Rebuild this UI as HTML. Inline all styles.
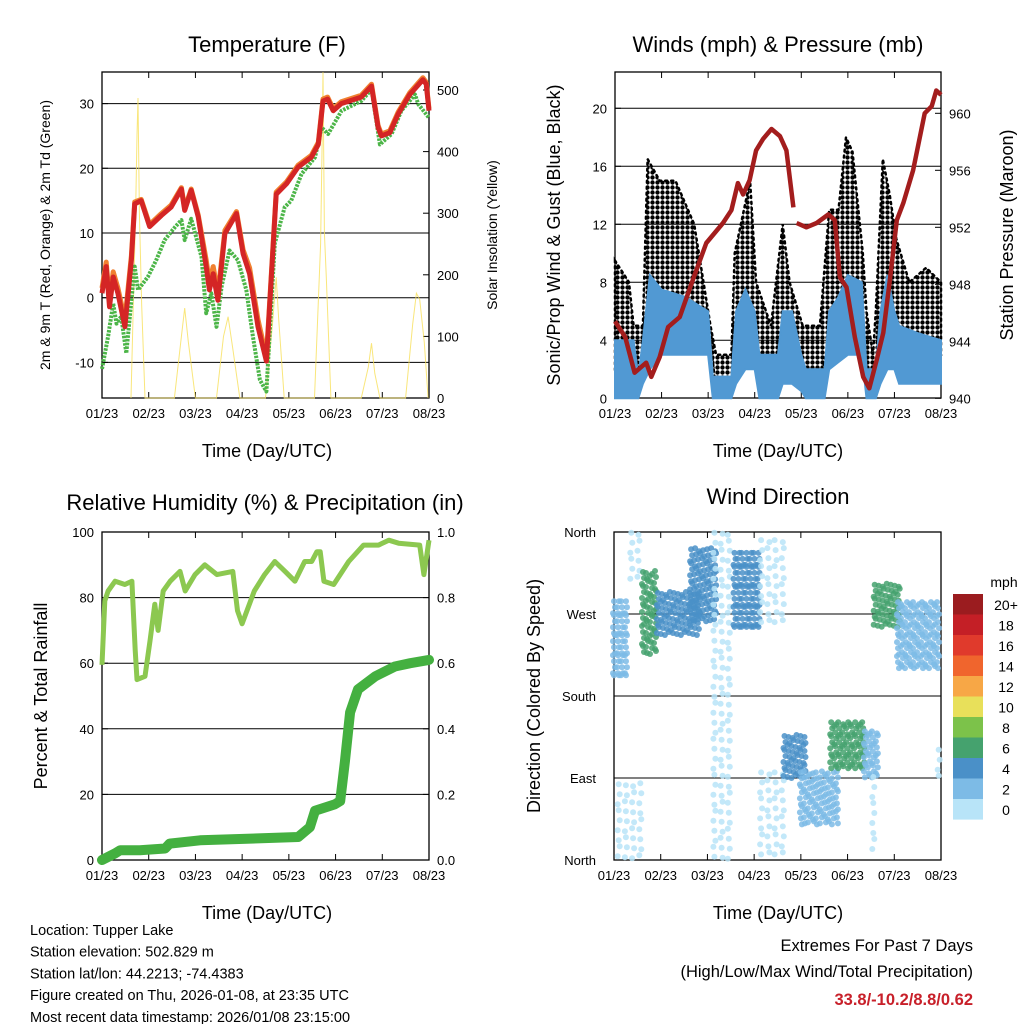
<!DOCTYPE html>
<html><head><meta charset="utf-8"><style>
body{margin:0;background:#fff;}
svg{display:block;font-family:"Liberation Sans",sans-serif;}
</style></head><body>
<svg id="chart" width="1024" height="1024" viewBox="0 0 1024 1024">
<defs>
<pattern id="gustDots" width="5" height="5" patternUnits="userSpaceOnUse"><circle cx="2.5" cy="2.5" r="2.2" fill="#000"/></pattern>
</defs>
<g id="g"></g>
</svg>
<script>
// ---------- DATA ----------
const xTickLabels = ["01/23","02/23","03/23","04/23","05/23","06/23","07/23","08/23"];
// Temperature panel
const tempT  = [0,0.09,0.16,0.24,0.34,0.49,0.63,0.7,0.84,1.02,1.27,1.48,1.7,1.77,1.91,2.06,2.23,2.3,2.38,2.48,2.63,2.88,3.02,3.16,3.34,3.52,3.73,3.95,4.2,4.48,4.63,4.73,4.83,4.95,5.12,5.55,5.77,5.91,5.98,6.16,6.34,6.59,6.87,6.94,7.0];
const redT   = [0.7,4.8,-1.4,3.2,0.7,-4.5,5.8,14.5,15,11,12.7,14,16.8,13.5,16.6,12.5,4.8,1.2,3.7,-0.4,9.9,13,6.8,3.7,-4.5,-9.8,16,17.6,20.2,21.7,23.7,30.4,30.7,28.9,30,31,32.7,26.3,25,25.5,28.4,31.4,33.7,33,28.9];
const orangeT= [1.5,5.5,-0.5,4,1.5,-3.5,6.5,14.8,15.2,11.3,13,14.3,17,13.8,16.8,12.8,5.8,2.4,4.8,0.6,10.4,13.3,7.4,4.6,-3.4,-9.2,16.3,17.9,20.5,22,24,30.7,31,29.2,30.3,31.3,33,26.6,25.3,25.8,28.7,31.7,34,33.3,29.2];
const dewT   = [0,0.13,0.24,0.31,0.41,0.52,0.63,0.7,0.77,0.98,1.16,1.34,1.56,1.7,1.77,1.91,2.13,2.23,2.34,2.45,2.56,2.73,2.91,3.09,3.23,3.38,3.52,3.7,3.91,4.05,4.27,4.56,4.7,4.84,5.13,5.55,5.77,5.95,6.2,6.41,6.7,6.77,7.0];
const dewV   = [-11,-6,-0.9,-4,-2.9,-8.6,-0.4,4.8,1.2,3.2,5.8,8.9,10.9,12,8.9,12.2,6.3,-2.4,0.7,-4.5,1.7,7.3,5.8,1.2,-6,-12.7,-14.5,8.4,14,15,19.1,21.7,26.3,25.3,28.9,30.4,32.2,23.7,25.3,28.9,31.4,29.9,27.8];
const solarT = [0.62,0.72,0.75,0.77,0.8,0.85,0.92,1.55,1.7,1.77,1.85,2.0,2.45,2.6,2.7,2.8,2.95,3.5,3.65,3.73,3.78,3.9,4.55,4.68,4.71,4.73,4.76,4.8,4.9,5.55,5.7,5.77,5.84,5.95,6.5,6.65,6.73,6.8,6.9,6.98];
const solarV = [0,300,427,487,300,150,0,0,100,146,90,0,0,100,132,80,0,0,120,196,130,0,0,250,400,529,268,200,0,0,50,89,40,0,0,120,170,160,90,0];
// Winds panel
const presT = [0,0.22,0.42,0.67,0.78,0.96,1.14,1.39,1.67,1.96,2.32,2.5,2.64,2.75,2.89,3.03,3.18,3.36,3.54,3.68,3.83];
const presV = [945.4,944.3,941.8,942.5,941.5,942.9,945,945.7,948.3,950.9,952.3,953.2,955.1,954.3,955.3,957.4,958.2,958.9,958.4,957.4,953.4];
const pres2T = [3.9,4.11,4.33,4.58,4.72,4.83,4.97,5.15,5.33,5.46,5.62,5.76,5.91,6.05,6.19,6.4,6.65,6.8,6.9,7.0];
const pres2V = [952.3,952.0,952.3,952.9,952.5,948.5,947.8,944.3,941.5,940.7,942.7,944.6,948.5,952.5,953.7,956,960,960.5,961.6,961.3];
const gustT  = [0,0.3,0.4,0.6,0.7,0.96,1.3,1.7,2.05,2.17,2.5,2.57,2.9,3.03,3.35,3.6,3.75,4.03,4.4,4.6,4.8,4.96,5.1,5.32,5.4,5.54,5.6,5.75,5.9,6.04,6.32,6.68,7.0];
const gustHi = [9.5,8,5,5,16.5,15,15,12,5,3,3,10,15,8,5,12,8,5,5,13,13,18,17,10,6,3,6,16.5,14,11,8,9,8];
const gustLo = [2,2,1.5,1.5,5,4,4,4.5,4,0.5,0.5,5,5,2,0.5,2,2,1,1,4,5,6,5,2,1,0.5,2,5,4,3,2.5,3,3];
const windT  = [0,0.4,0.5,0.6,0.75,1.0,1.5,2.0,2.1,2.5,2.6,2.8,3.0,3.1,3.5,3.6,3.8,4.0,4.1,4.5,4.6,4.8,5.0,5.3,5.4,5.6,5.7,5.85,6.0,6.1,6.5,7.0];
const windHi = [4,4,1.5,4,8.5,7.5,7,6,1.5,1.5,6,7.5,6,3,3,6,6,3,2,2,6,7,8.5,8,2,2,6,8.5,6,5,4.5,4];
const windLo = [0,0,0,1,2,3,3,3,0,0,1,2,2,0,0,1,1,0.5,0,0,2,2.5,3,3,0,0,1,2,2,1,1,1];
// Humidity / precipitation panel
const rhT = [0,0.06,0.13,0.28,0.49,0.64,0.71,0.75,0.92,1.03,1.13,1.2,1.31,1.46,1.67,1.78,1.99,2.2,2.46,2.8,2.9,3.0,3.26,3.48,3.7,3.92,4.13,4.34,4.49,4.6,4.67,4.75,4.96,5.28,5.6,5.92,6.14,6.35,6.8,6.89,7.0];
const rhV = [59.5,79,82,85,84,85,64,55,56,67,78,70,82,85,88,82,87,90,87,88,76,72,82,87,91,88,85,91,91,94,94,85,84,91,96,96,97.5,96.6,96,87,97.5];
const prT = [0,0.28,0.39,0.81,1.35,1.45,2.1,4.2,4.45,4.56,4.99,5.1,5.2,5.31,5.48,5.85,6.27,6.6,7.0];
const prV = [0,0.02,0.03,0.03,0.035,0.05,0.06,0.07,0.1,0.15,0.17,0.18,0.3,0.45,0.52,0.56,0.59,0.6,0.61];
// Wind direction clusters
const dirT0 = [0,0.1,0.37,0.62,0.94,1.65,2.15,2.58,3.15,3.15,3.65,4.0,4.65,5.37,5.55,5.58,6.08,6.95];
const dirT1 = [0.3,0.6,0.6,0.94,1.8,2.23,2.6,3.15,3.7,3.65,4.08,4.8,5.4,5.65,5.7,6.15,7.0,7.0];
const dirLo = [198,2,307,223,245,260,2,252,252,2,88,40,100,88,2,253,210,85];
const dirHi = [283,82,358,315,292,340,358,336,350,95,135,95,150,140,90,301,282,120];
const dirSpd= [3,1,1,6,4.5,4,0.5,4,1.5,1,4,2,6,3,1,6,3,1];
const speedLabels = ["20+","18","16","14","12","10","8","6","4","2","0"];
const speedColors = ["#9b1c1f","#c41f26","#e03a2c","#f0652d","#f7a746","#e8e05a","#7cc24a","#45a26e","#4a90c8","#7dbbe6","#b8e4f8"];
const dirLabels = ["North","West","South","East","North"];

// ---------- HELPERS ----------
const NS="http://www.w3.org/2000/svg";
const root=document.getElementById('g');
function el(tag,attrs,parent,text){const e=document.createElementNS(NS,tag);for(const k in attrs)e.setAttribute(k,attrs[k]);if(text!==undefined)e.textContent=text;(parent||root).appendChild(e);return e;}

function panelFrame(x0,x1,y0,y1,name){
  const r=el('rect',{x:x0,y:y0,width:x1-x0,height:y1-y0,fill:'none',stroke:'#000','stroke-width':1.3});
  
  
  const xs=t=>x0+t*(x1-x0)/7;
  for(let i=0;i<8;i++){
    const x=xs(i);
    el('line',{x1:x,x2:x,y1:y1,y2:y1-6,stroke:'#000'});
    el('line',{x1:x,x2:x,y1:y0,y2:y0+6,stroke:'#000'});
    const tl=el('text',{x:x,y:y1+20,'font-size':13,'text-anchor':'middle'},null,xTickLabels[i]);
    
    
  }
  return xs;
}
function hgrid(x0,x1,y){el('line',{x1:x0,x2:x1,y1:y,y2:y,stroke:'#000','stroke-width':1});}
function text(x,y,s,size,name,extra){const t=el('text',Object.assign({x:x,y:y,'font-size':size,'text-anchor':'middle'},extra||{}),null,s);return t;}
function vtext(x,y,s,size,name){const t=el('text',{x:0,y:0,'font-size':size,'text-anchor':'middle',transform:`translate(${x},${y}) rotate(-90)`},null,s);return t;}
function pathFrom(ts,vs,xs,ys){return ts.map((t,i)=>(i?'L':'M')+xs(t).toFixed(1)+','+ys(vs[i]).toFixed(1)).join(' ');}

// ---------- PANEL 1: TEMPERATURE ----------
(function(){
  const x0=102,x1=429,y0=72,y1=398;
  const yT=v=>297.7-v*6.47;
  const yS=v=>398-v*0.616;
  [30,20,10,0,-10].forEach(v=>hgrid(x0,x1,yT(v)));
  const xs=panelFrame(x0,x1,y0,y1,'temperature');
  [30,20,10,0,-10].forEach(v=>{el('line',{x1:x0,x2:x0+6,y1:yT(v),y2:yT(v),stroke:'#000'});const t=el('text',{x:x0-8,y:yT(v)+5,'font-size':13,'text-anchor':'end'},null,String(v));});
  [0,100,200,300,400,500].forEach(v=>{el('line',{x1:x1,x2:x1-6,y1:yS(v),y2:yS(v),stroke:'#000'});const t=el('text',{x:x1+8,y:yS(v)+5,'font-size':13},null,String(v));});
  const solarPts=solarT.map((t,i)=>xs(t).toFixed(1)+','+yS(Math.min(solarV[i],532)).toFixed(1)).join(' ');
  const s=el('polyline',{points:solarPts,fill:'none',stroke:'#f7e05a','stroke-width':1,'stroke-opacity':0.8});
  
  const d=el('path',{d:pathFrom(dewT,dewV,xs,yT),fill:'none',stroke:'#4cb548','stroke-width':4,'stroke-dasharray':'2.5 1.2','stroke-linejoin':'round'});
  
  const o=el('path',{d:pathFrom(tempT,orangeT,xs,yT),fill:'none',stroke:'#f08030','stroke-width':5,'stroke-linejoin':'round'});
  
  const r=el('path',{d:pathFrom(tempT,redT,xs,yT),fill:'none',stroke:'#d42525','stroke-width':5,'stroke-linejoin':'round'});
  
  text(267,52,'Temperature (F)',22,'temperature-title');
  text(267,457,'Time (Day/UTC)',18,'temperature-x-title');
  vtext(50,235,'2m & 9m T (Red, Orange) & 2m Td (Green)',14,'temperature-y-title');
  vtext(497,235,'Solar Insolation (Yellow)',14,'solar-y-title');
})();

// ---------- PANEL 2: WINDS ----------
(function(){
  const x0=615,x1=941,y0=72,y1=398;
  const yW=v=>398.3-v*14.5;
  const yP=v=>398.3-(v-940)*14.25;
  [4,8,12,16,20].forEach(v=>hgrid(x0,x1,yW(v)));
  const xs=panelFrame(x0,x1,y0,y1,'winds');
  [0,4,8,12,16,20].forEach(v=>{el('line',{x1:x0,x2:x0+6,y1:yW(v),y2:yW(v),stroke:'#000'});const t=el('text',{x:x0-8,y:yW(v)+5,'font-size':13,'text-anchor':'end'},null,String(v));});
  [940,944,948,952,956,960].forEach(v=>{el('line',{x1:x1,x2:x1-6,y1:yP(v),y2:yP(v),stroke:'#000'});const t=el('text',{x:x1+8,y:yP(v)+5,'font-size':13},null,String(v));});
  function band(ts,hi,lo){let d='';ts.forEach((t,i)=>d+=(i?'L':'M')+xs(t).toFixed(1)+','+yW(hi[i]).toFixed(1));for(let i=ts.length-1;i>=0;i--)d+='L'+xs(ts[i]).toFixed(1)+','+yW(lo[i]).toFixed(1);return d+'Z';}
  const g=el('path',{d:band(gustT,gustHi,gustLo),fill:'url(#gustDots)',stroke:'#000','stroke-width':2.5,'stroke-dasharray':'2 4','stroke-linecap':'round'});
  
  const w=el('path',{d:band(windT,windHi,windLo),fill:'#5199d3',stroke:'#5199d3','stroke-width':2});
  
  [[presT,presV],[pres2T,pres2V]].forEach(([ts,vs])=>{const p=el('path',{d:pathFrom(ts,vs,xs,yP),fill:'none',stroke:'#a31d1d','stroke-width':4.5,'stroke-linejoin':'round'});});
  text(778,52,'Winds (mph) & Pressure (mb)',22,'winds-title');
  text(778,457,'Time (Day/UTC)',18,'winds-x-title');
  vtext(560,235,'Sonic/Prop Wind & Gust (Blue, Black)',18,'winds-y-title');
  vtext(1013,235,'Station Pressure (Maroon)',18,'pressure-y-title');
})();

// ---------- PANEL 3: RH & PRECIP ----------
(function(){
  const x0=102,x1=429,y0=532,y1=860;
  const yR=v=>860-v*3.28;
  const yPr=v=>860-v*328;
  [20,40,60,80].forEach(v=>hgrid(x0,x1,yR(v)));
  const xs=panelFrame(x0,x1,y0,y1,'humidity');
  [0,20,40,60,80,100].forEach(v=>{el('line',{x1:x0,x2:x0+6,y1:yR(v),y2:yR(v),stroke:'#000'});const t=el('text',{x:x0-8,y:yR(v)+5,'font-size':13,'text-anchor':'end'},null,String(v));});
  [0,0.2,0.4,0.6,0.8,1.0].forEach(v=>{el('line',{x1:x1,x2:x1-6,y1:yPr(v),y2:yPr(v),stroke:'#000'});const t=el('text',{x:x1+8,y:yPr(v)+5,'font-size':13},null,v.toFixed(1));});
  const p=el('path',{d:pathFrom(prT,prV,xs,yPr),fill:'none',stroke:'#44b040','stroke-width':10,'stroke-linejoin':'round','stroke-linecap':'round'});
  
  const r=el('path',{d:pathFrom(rhT,rhV,xs,yR),fill:'none',stroke:'#8cc850','stroke-width':5,'stroke-linejoin':'round'});
  
  text(265,510,'Relative Humidity (%) & Precipitation (in)',22,'humidity-title');
  text(267,919,'Time (Day/UTC)',18,'humidity-x-title');
  vtext(47,696,'Percent & Total Rainfall',18,'humidity-y-title');
})();

// ---------- PANEL 4: WIND DIRECTION ----------
(function(){
  const x0=614,x1=941,y0=532,y1=860;
  const yD=v=>860-v*328/360;
  [90,180,270].forEach(v=>hgrid(x0,x1,yD(v)));
  const xs=panelFrame(x0,x1,y0,y1,'direction');
  [0,90,180,270,360].forEach((v,i)=>{el('line',{x1:x0,x2:x0+6,y1:yD(v),y2:yD(v),stroke:'#000'});const t=el('text',{x:x0-18,y:yD(v)+5,'font-size':13,'text-anchor':'end'},null,dirLabels[4-i]);});
  function spdColor(s){const idx=Math.min(10,Math.floor(s/2));return speedColors[10-idx];}
  const cg=el('g',{});
  for(let c=0;c<dirT0.length;c++){
    const col=spdColor(dirSpd[c]);
    const xa=xs(dirT0[c]),xb=xs(dirT1[c]),ya=yD(dirHi[c]),yb=yD(dirLo[c]);
    const sparse=dirSpd[c]<2;
    const step=sparse?9:5;
    let k=0;
    for(let x=xa;x<=xb+0.1;x+=step*0.8){
      for(let y=ya;y<=yb+0.1;y+=step){
        k++;
        el('circle',{cx:(x+((k*7)%3)-1).toFixed(1),cy:(y+((k*5)%4)-2).toFixed(1),r:3,fill:col,'fill-opacity':0.85},cg);
      }
    }
  }
  // legend
  const lg=el('g',{});
  speedLabels.forEach((l,i)=>{
    el('rect',{x:953,y:594+i*20.5,width:30,height:20.6,fill:speedColors[i]},lg);
    const t=el('text',{x:1006,y:610+i*20.5,'font-size':14,'text-anchor':'middle'},lg,l);
    
  });
  text(1004,587,'mph',14,'colorbar-title');
  text(778,504,'Wind Direction',22,'direction-title');
  text(778,919,'Time (Day/UTC)',18,'direction-x-title');
  vtext(540,696,'Direction (Colored By Speed)',18,'direction-y-title');
})();

// ---------- FOOTER ----------
["Location: Tupper Lake","Station elevation: 502.829 m","Station lat/lon: 44.2213; -74.4383","Figure created on Thu, 2026-01-08, at 23:35 UTC","Most recent data timestamp: 2026/01/08 23:15:00"].forEach((s,i)=>{
  const t=el('text',{x:30,y:935+i*21.7,'font-size':14.5},null,s);
  
});
text(973,951,'Extremes For Past 7 Days',16.5,'extremes-title',{'text-anchor':'end'});
text(973,977,'(High/Low/Max Wind/Total Precipitation)',16.5,'extremes-subtitle',{'text-anchor':'end'});
text(973,1005,'33.8/-10.2/8.8/0.62',16.5,'extremes-values',{'text-anchor':'end','font-weight':'bold',fill:'#c8202a'});
</script>
</body></html>
